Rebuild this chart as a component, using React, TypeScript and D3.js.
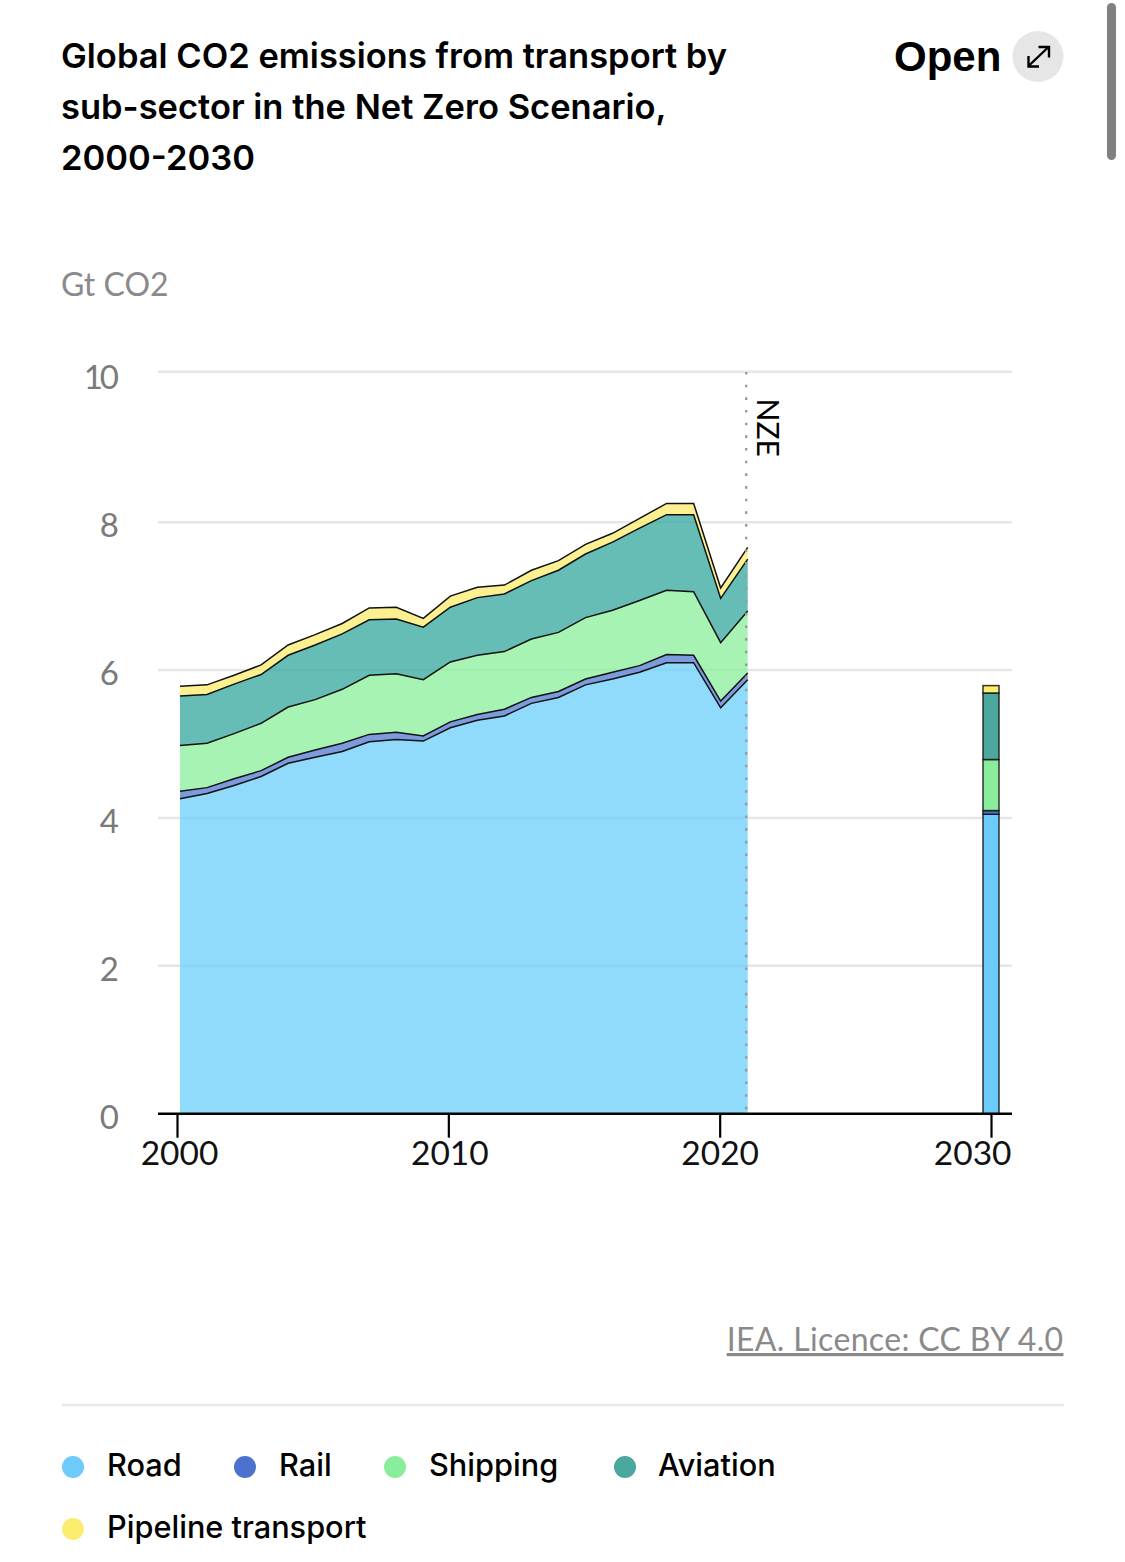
import React, { useEffect, useRef } from 'react';
import * as d3 from 'd3';

const years = d3.range(2000, 2022);
const road = [4.26, 4.33, 4.44, 4.56, 4.74, 4.82, 4.9, 5.03, 5.06, 5.04, 5.22, 5.32, 5.38, 5.55, 5.63, 5.8, 5.88, 5.97, 6.1, 6.1, 5.49, 5.87];
const rail = [0.1, 0.08, 0.09, 0.08, 0.08, 0.1, 0.11, 0.1, 0.1, 0.07, 0.08, 0.08, 0.09, 0.08, 0.08, 0.08, 0.09, 0.09, 0.11, 0.1, 0.09, 0.09];
const shipping = [0.62, 0.6, 0.61, 0.64, 0.68, 0.68, 0.73, 0.8, 0.79, 0.76, 0.81, 0.8, 0.78, 0.79, 0.8, 0.83, 0.84, 0.88, 0.87, 0.86, 0.79, 0.84];
const aviation = [0.67, 0.66, 0.67, 0.66, 0.7, 0.74, 0.75, 0.75, 0.74, 0.71, 0.74, 0.78, 0.78, 0.79, 0.84, 0.86, 0.92, 0.98, 1.02, 1.04, 0.6, 0.7];
const pipeline = [0.13, 0.13, 0.12, 0.13, 0.14, 0.14, 0.14, 0.16, 0.16, 0.12, 0.15, 0.14, 0.12, 0.14, 0.13, 0.13, 0.12, 0.13, 0.15, 0.15, 0.14, 0.16];

const seriesNames = ['Road', 'Rail', 'Shipping', 'Aviation', 'Pipeline transport'];
const seriesValues = [road, rail, shipping, aviation, pipeline];
const seriesColors = ['#6dcbfb', '#4b72cf', '#8aed9c', '#4aa89e', '#fbee6e'];
const areaColors = ['#6ecffb', '#557dd1', '#8bef9c', '#38a99f', '#fceb6e'];
const nze2030 = [4.05, 0.05, 0.69, 0.9, 0.1];

const titleLines = ['Global CO2 emissions from transport by', 'sub-sector in the Net Zero Scenario,', '2000-2030'];
const xTicks = [2000, 2010, 2020, 2030];
const yTicks = [0, 2, 4, 6, 8, 10];

// legend rows wrap the way the page does it: [dot x, text x, baseline]
const legendPos = [
  [73, 107, 1475.5],
  [245, 279, 1475.5],
  [395, 429, 1475.5],
  [625, 658, 1475.5],
  [73, 107, 1537.5],
];

const App: React.FC = () => {
  const chartRef = useRef<SVGSVGElement | null>(null);

  useEffect(() => {
    const svg = d3.select(chartRef.current);
    svg.selectAll('*').remove();

    const labelFont = 'Lato, sans-serif';
    const headFont = 'Inter, sans-serif';

    const x = d3.scaleLinear().domain([2000, 2030]).range([180, 991]);
    const xAxisScale = d3.scaleLinear().domain([2000, 2030]).range([177, 991]);
    // the top gridline sits a touch high in the original, hence the extra stop
    const y = d3.scaleLinear().domain([0, 8, 10]).range([1113.7, 522.2, 371.8]);

    // Title
    svg.append('g')
      .selectAll('text')
      .data(titleLines)
      .enter()
      .append('text')
      .attr('x', 61)
      .attr('y', (_, i) => 67.5 + i * 51)
      .attr('font-family', headFont)
      .attr('font-weight', 600)
      .attr('font-size', 34.5)
      .attr('fill', '#000')
      .text((d) => d);

    svg.append('text')
      .attr('x', 61)
      .attr('y', 296)
      .attr('font-family', labelFont)
      .attr('font-size', 32)
      .attr('fill', '#8a8a8a')
      .text('Gt CO2');

    // Open button
    svg.append('text')
      .attr('x', 894)
      .attr('y', 70.5)
      .attr('font-family', 'Liberation Sans, sans-serif')
      .attr('font-weight', 700)
      .attr('font-size', 42)
      .attr('fill', '#000')
      .text('Open');
    svg.append('circle').attr('cx', 1038).attr('cy', 56.5).attr('r', 25.5).attr('fill', '#e6e6e6');
    svg.append('path')
      .attr('d', 'M1029 65.5L1048 47.5M1038.5 47H1049V57.5M1028.5 56V66.5H1039')
      .attr('fill', 'none')
      .attr('stroke', '#000')
      .attr('stroke-width', 2.4);

    // Scrollbar
    svg.append('rect')
      .attr('x', 1107).attr('y', 3).attr('width', 9).attr('height', 157).attr('rx', 4.5)
      .attr('fill', '#808080');

    // Grid + y labels
    const yAxis = d3.axisLeft(y).tickValues(yTicks).tickSize(0).tickPadding(0);
    const yG = svg.append('g').attr('transform', 'translate(119,0)').call(yAxis);
    yG.select('.domain').remove();
    yG.selectAll('text')
      .attr('font-family', labelFont)
      .attr('font-size', 33)
      .attr('fill', '#7a7a7a')
      .attr('dy', '0.32em')
      .attr('letter-spacing', (d) => (d === 10 ? -3 : 0))
      .attr('x', (d) => (d === 10 ? -3 : 0))
      .attr('y', (d) => (d === 0 ? 4 : d === 10 ? 6 : 4));

    svg.append('g')
      .selectAll('line')
      .data(yTicks.filter((d) => d > 0))
      .enter()
      .append('line')
      .attr('x1', 158)
      .attr('x2', 1012)
      .attr('y1', (d) => y(d))
      .attr('y2', (d) => y(d))
      .attr('stroke', '#e6e6e6')
      .attr('stroke-width', 2.5);

    // Stacked areas
    const rows = years.map((yr, i) => {
      const row: Record<string, number> = { year: yr };
      seriesNames.forEach((n, s) => { row[n] = seriesValues[s][i]; });
      return row;
    });
    const stacked = d3.stack<Record<string, number>>().keys(seriesNames)(rows);

    const area = d3.area<d3.SeriesPoint<Record<string, number>>>()
      .x((d) => x(d.data.year))
      .y0((d) => y(d[0]))
      .y1((d) => y(d[1]));
    const topLine = d3.line<d3.SeriesPoint<Record<string, number>>>()
      .x((d) => x(d.data.year))
      .y((d) => y(d[1]));

    svg.append('g')
      .selectAll('path')
      .data(stacked)
      .enter()
      .append('path')
      .attr('d', (d) => area(d))
      .attr('fill', (_, i) => areaColors[i])
      .attr('fill-opacity', 0.77);

    svg.append('g')
      .selectAll('path')
      .data(stacked)
      .enter()
      .append('path')
      .attr('d', (d) => topLine(d))
      .attr('fill', 'none')
      .attr('stroke', '#111')
      .attr('stroke-width', 1.5);

    // 2030 bar
    const barWidth = 16;
    const cum = d3.cumsum(nze2030);
    svg.append('g')
      .selectAll('rect')
      .data(nze2030)
      .enter()
      .append('rect')
      .attr('x', x(2030) - barWidth / 2)
      .attr('width', barWidth)
      .attr('y', (_, i) => y(cum[i]))
      .attr('height', (d, i) => y(i ? cum[i - 1] : 0) - y(cum[i]))
      .attr('fill', (_, i) => seriesColors[i])
      .attr('stroke', '#111')
      .attr('stroke-opacity', 0.85)
      .attr('stroke-width', 1.5);

    // NZE marker
    svg.append('line')
      .attr('x1', x(2021) - 1.5)
      .attr('x2', x(2021) - 1.5)
      .attr('y1', 372)
      .attr('y2', y(0))
      .attr('stroke', '#9a9a9a')
      .attr('stroke-width', 2.4)
      .attr('stroke-dasharray', '2.6 10.07');
    svg.append('text')
      .attr('transform', 'translate(757,398.5) rotate(90)')
      .attr('font-family', labelFont)
      .attr('font-size', 30)
      .attr('fill', '#000')
      .text('NZE');

    // X axis
    const xAxis = d3.axisBottom(xAxisScale)
      .tickValues(xTicks)
      .tickFormat(d3.format('d'))
      .tickSize(24)
      .tickPadding(4);
    const xG = svg.append('g').attr('transform', `translate(0,${y(0)})`).call(xAxis);
    xG.select('.domain').remove();
    xG.selectAll('line').attr('stroke', '#000').attr('stroke-width', 2.2);
    xG.selectAll('text')
      .attr('font-family', labelFont)
      .attr('font-size', 33.5)
      .attr('fill', '#111')
      .attr('text-anchor', (d) => (d === 2030 ? 'end' : 'middle'))
      .attr('x', (d) => (d === 2030 ? 20 : d === 2020 ? 0 : d === 2010 ? 1 : 2));
    svg.append('line')
      .attr('x1', 158)
      .attr('x2', 1012)
      .attr('y1', y(0))
      .attr('y2', y(0))
      .attr('stroke', '#000')
      .attr('stroke-width', 2.5);

    // Source
    svg.append('text')
      .attr('x', 1063.5)
      .attr('y', 1351)
      .attr('text-anchor', 'end')
      .attr('font-family', labelFont)
      .attr('font-size', 32)
      .attr('letter-spacing', 0.35)
      .attr('fill', '#8a8a8a')
      .attr('text-decoration', 'underline')
      .text('IEA. Licence: CC BY 4.0');

    svg.append('line')
      .attr('x1', 62).attr('x2', 1064).attr('y1', 1405).attr('y2', 1405)
      .attr('stroke', '#e8e8e8').attr('stroke-width', 2.4);

    // Legend
    const legend = svg.append('g')
      .selectAll('g')
      .data(seriesNames)
      .enter()
      .append('g');
    legend.append('circle')
      .attr('cx', (_, i) => legendPos[i][0])
      .attr('cy', (_, i) => legendPos[i][2] - 8.5)
      .attr('r', 11)
      .attr('fill', (_, i) => seriesColors[i]);
    legend.append('text')
      .attr('x', (_, i) => legendPos[i][1])
      .attr('y', (_, i) => legendPos[i][2])
      .attr('font-family', headFont)
      .attr('font-weight', 500)
      .attr('font-size', 30.7)
      .attr('fill', '#000')
      .text((d) => d);
  }, []);

  return (
    <svg
      ref={chartRef}
      width={1125}
      height={1562}
      style={{ position: 'absolute', left: 0, top: 0, background: '#fff' }}
    />
  );
};

export default App;
